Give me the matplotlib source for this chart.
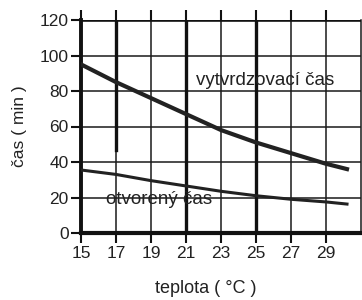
import matplotlib.pyplot as plt
import numpy as np

plt.rcParams["font.family"] = ["Liberation Sans", "DejaVu Sans"]

# temperature (°C) and times (min)
teplota = [15, 17, 19, 21, 23, 25, 27, 29, 30.2]
vytvrdzovaci = [95, 85, 76, 67, 58, 51, 45, 39, 36]
otvoreny = [35.5, 33, 29.5, 26.5, 23.5, 21, 19, 17.5, 16.3]

x_ticks = [15, 17, 19, 21, 23, 25, 27, 29]
y_ticks = [0, 20, 40, 60, 80, 100, 120]

fig = plt.figure(figsize=(3.62, 3.0), dpi=100, facecolor="white")
ax = fig.add_axes([81 / 362, 67 / 300, 280 / 362, 213 / 300])

ax.set_xlim(15, 31)
ax.set_ylim(0, 120)

# thin grid every 2 °C and every 20 min
for x in range(17, 32, 2):
    ax.axvline(x, color="#1a1a1a", lw=1.1, zorder=1, clip_on=False)
for y in y_ticks[1:]:
    ax.axhline(y, color="#1a1a1a", lw=1.1, zorder=1)

# heavier lines
ax.axvline(21, color="#111111", lw=2.4, zorder=2)
ax.axvline(25, color="#111111", lw=2.4, zorder=2)
ax.plot([17, 17], [47, 120], color="#111111", lw=2.4, zorder=2)
ax.axhline(120, color="#111111", lw=2.6, zorder=2)

ax.plot(teplota, vytvrdzovaci, color="#222222", lw=3, zorder=3)
ax.plot(teplota, otvoreny, color="#222222", lw=2.2, zorder=3)

ax.text(21.6, 86, "vytvrdzovací čas", fontsize=13.5, color="#222222",
        va="center", ha="left", zorder=4)
ax.text(16.4, 18.6, "otvorený čas", fontsize=13.5, color="#222222",
        va="center", ha="left", zorder=4)

for side in ["top", "right"]:
    ax.spines[side].set_visible(False)
ax.spines["left"].set_linewidth(2.8)
ax.spines["bottom"].set_linewidth(3)
ax.spines["left"].set_color("#111111")
ax.spines["bottom"].set_color("#111111")

ax.set_xticks(x_ticks)
ax.set_yticks(y_ticks)
ax.tick_params(axis="both", labelsize=12.5, length=7, width=1.5, color="#111111",
               labelcolor="#222222", pad=2)
ax.tick_params(axis="x", top=True, length=7)

ax.set_ylabel("čas ( min )", fontsize=12.5, color="#222222", labelpad=9)
fig.text(206 / 362, 3 / 300, "teplota ( °C )", fontsize=13, color="#222222",
         ha="center", va="bottom")

fig.savefig("out.png", dpi=100, facecolor="white")
